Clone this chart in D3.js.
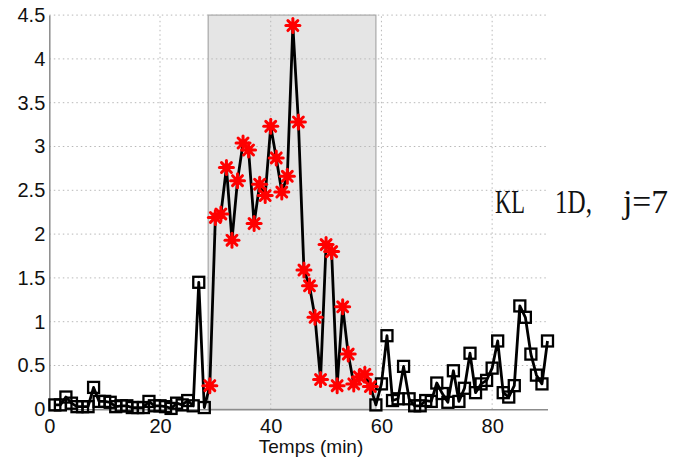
<!DOCTYPE html>
<html>
<head>
<meta charset="utf-8">
<script src="https://cdn.jsdelivr.net/npm/d3@7"></script>
<style>
  body { margin: 0; background: #fff; }
  svg { display: block; }
</style>
</head>
<body>
<div id="chart"></div>
<script>
// values, one per minute
var minutes = d3.range(1, 91);
var klValues = [
  0.05, 0.05, 0.14, 0.07, 0.03, 0.03, 0.03, 0.25, 0.09, 0.09,
  0.08, 0.03, 0.04, 0.04, 0.02, 0.02, 0.02, 0.09, 0.04, 0.04,
  0.03, 0.01, 0.07, 0.05, 0.10, 0.04, 1.45, 0.02, 0.27, 2.19,
  2.23, 2.76, 1.93, 2.61, 3.04, 2.96, 2.12, 2.57, 2.44, 3.23,
  2.87, 2.48, 2.66, 4.38, 3.28, 1.59, 1.41, 1.05, 0.34, 1.88,
  1.80, 0.27, 1.17, 0.63, 0.29, 0.37, 0.40, 0.26, 0.05, 0.29,
  0.84, 0.10, 0.12, 0.49, 0.12, 0.04, 0.04, 0.10, 0.09, 0.30,
  0.18, 0.08, 0.44, 0.09, 0.24, 0.64, 0.19, 0.29, 0.33, 0.47,
  0.78, 0.19, 0.14, 0.27, 1.18, 1.05, 0.63, 0.39, 0.29, 0.78
];
var shadeStart = 28.7, shadeEnd = 59;
var xTicks = [0, 20, 40, 60, 80];
var yTicks = [0, 0.5, 1, 1.5, 2, 2.5, 3, 3.5, 4, 4.5];
var xTitle = "Temps (min)";
var note = ["KL", "1D,", "j=7"];

var data = minutes.map(function(t, i) { return { t: t, v: klValues[i] }; });

var width = 676, height = 457;
var svg = d3.select("#chart").append("svg")
    .attr("width", width)
    .attr("height", height);

var x = d3.scaleLinear().domain([0, 90]).range([49.3, 547.5]);
var y = d3.scaleLinear().domain([0, 4.5]).range([409.3, 15.1]);

// shaded interval
svg.append("rect")
    .attr("x", x(shadeStart))
    .attr("y", y(4.5))
    .attr("width", x(shadeEnd) - x(shadeStart))
    .attr("height", y(0) - y(4.5))
    .attr("fill", "#e5e5e5")
    .attr("stroke", "#a8a8a8")
    .attr("stroke-width", 1.2);

// dotted grid
var grid = svg.append("g").attr("stroke", "#b8b8b8").attr("stroke-width", 1)
    .attr("stroke-dasharray", "1.5,3");
grid.selectAll(".gx").data(xTicks.slice(1)).enter().append("line")
    .attr("x1", function(d) { return x(d); }).attr("x2", function(d) { return x(d); })
    .attr("y1", y(0)).attr("y2", y(4.5));
grid.selectAll(".gy").data(yTicks.slice(1)).enter().append("line")
    .attr("x1", x(0)).attr("x2", x(90))
    .attr("y1", function(d) { return y(d); }).attr("y2", function(d) { return y(d); });

// axes
var xAxis = svg.append("g")
    .attr("transform", "translate(0," + y(0) + ")")
    .call(d3.axisBottom(x).tickValues(xTicks).tickSize(0).tickPadding(10).tickFormat(d3.format("d")));
var yAxis = svg.append("g")
    .attr("transform", "translate(" + x(0) + ",0)")
    .call(d3.axisLeft(y).tickValues(yTicks).tickSize(0).tickPadding(4).tickFormat(function(d) { return d; }));
[xAxis, yAxis].forEach(function(a) {
  a.select(".domain").attr("stroke", "#8c8c8c").attr("stroke-width", 1.5);
  a.selectAll("text")
      .attr("font-family", "Liberation Sans, Arial, sans-serif")
      .attr("font-size", 20)
      .attr("fill", "#111");
});
xAxis.selectAll("text").attr("dy", "0.71em");

svg.append("text")
    .attr("x", 311)
    .attr("y", 453)
    .attr("text-anchor", "middle")
    .attr("font-family", "Liberation Sans, Arial, sans-serif")
    .attr("font-size", 19)
    .attr("fill", "#111")
    .text(xTitle);

// series line
var line = d3.line()
    .x(function(d) { return x(d.t); })
    .y(function(d) { return y(d.v); });
svg.append("path")
    .datum(data)
    .attr("d", line)
    .attr("fill", "none")
    .attr("stroke", "#000")
    .attr("stroke-width", 2.8)
    .attr("stroke-linejoin", "round");

var inside = function(d) { return d.t > shadeStart && d.t < shadeEnd; };

// squares outside the interval
svg.selectAll(".sq").data(data.filter(function(d) { return !inside(d); })).enter().append("rect")
    .attr("x", function(d) { return x(d.t) - 5.5; })
    .attr("y", function(d) { return y(d.v) - 5.5; })
    .attr("width", 11)
    .attr("height", 11)
    .attr("fill", "none")
    .attr("stroke", "#000")
    .attr("stroke-width", 2.3);

// red asterisks inside the interval
var star = svg.selectAll(".st").data(data.filter(inside)).enter().append("g")
    .attr("transform", function(d) { return "translate(" + x(d.t) + "," + y(d.v) + ")"; });
[0, 45, 90, 135].forEach(function(a) {
  var r = 7, rad = a * Math.PI / 180;
  star.append("line")
      .attr("x1", -r * Math.cos(rad)).attr("y1", -r * Math.sin(rad))
      .attr("x2", r * Math.cos(rad)).attr("y2", r * Math.sin(rad))
      .attr("stroke", "#ff0000")
      .attr("stroke-width", 3)
      .attr("stroke-linecap", "round");
});
star.append("circle").attr("r", 4).attr("fill", "#ff0000");

// annotation
var noteX = [495, 555, 623], noteW = [30, 37, 45];
note.forEach(function(s, i) {
  svg.append("text")
      .attr("x", noteX[i])
      .attr("y", 213)
      .attr("font-family", "Liberation Serif, Times New Roman, serif")
      .attr("font-size", 33)
      .attr("fill", "#111")
      .attr("textLength", noteW[i])
      .attr("lengthAdjust", "spacingAndGlyphs")
      .text(s);
});
</script>
</body>
</html>
